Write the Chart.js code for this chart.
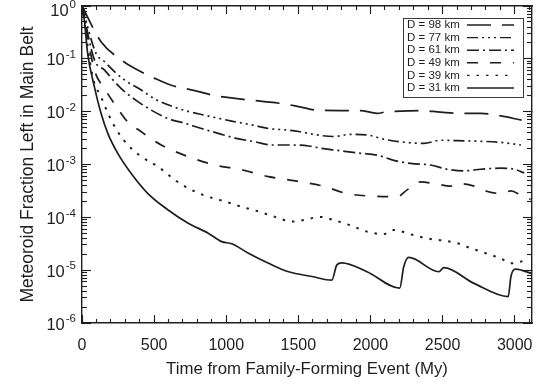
<!DOCTYPE html>
<html>
<head>
<meta charset="utf-8">
<script src="https://cdn.jsdelivr.net/npm/chart.js@4.4.1/dist/chart.umd.min.js"></script>
<style>
  html, body { margin: 0; padding: 0; background: #fff; }
  #wrap { width: 538px; height: 387px; }
</style>
</head>
<body>
<div id="wrap"><canvas id="chart" width="538" height="387"></canvas></div>
<script>
// Meteoroid fraction left in the main belt vs time since the family-forming event.
// Values (time in My, fraction on a log axis).

const seriesLabels = ["D = 98 km", "D = 77 km", "D = 61 km", "D = 49 km", "D = 39 km", "D = 31 km"];

const t98 = [0, 132, 272, 364, 504, 620, 782, 898, 1061, 1200, 1339, 1478, 1627, 1790, 1929, 2045, 2115, 2207, 2347, 2486, 2625, 2765, 2904, 3048];
const f98 = [1, 0.211, 0.0955, 0.0661, 0.0427, 0.0316, 0.0251, 0.0207, 0.0178, 0.0162, 0.0148, 0.0129, 0.0107, 0.0105, 0.0105, 0.0093, 0.0100, 0.0102, 0.0105, 0.0098, 0.0093, 0.0093, 0.0083, 0.0069];

const t77 = [0, 97, 155, 225, 295, 411, 504, 597, 689, 806, 921, 1038, 1177, 1293, 1432, 1511, 1627, 1743, 1859, 1976, 2091, 2207, 2370, 2486, 2602, 2765, 2904, 3043];
const f77 = [1, 0.127, 0.0891, 0.0575, 0.0398, 0.0257, 0.0174, 0.0135, 0.0110, 0.00912, 0.00776, 0.00661, 0.00562, 0.00479, 0.00447, 0.00417, 0.00363, 0.00339, 0.00372, 0.00363, 0.00302, 0.00269, 0.00251, 0.00288, 0.00282, 0.00275, 0.00263, 0.00234];

const t61 = [0, 86, 155, 225, 295, 388, 480, 597, 713, 829, 945, 1061, 1200, 1316, 1455, 1572, 1650, 1767, 1906, 2045, 2161, 2277, 2416, 2533, 2648, 2765, 2904, 2997, 3066];
const f61 = [1, 0.0955, 0.0617, 0.0372, 0.0240, 0.0155, 0.0107, 0.00741, 0.00603, 0.00479, 0.00389, 0.00316, 0.00269, 0.00234, 0.00234, 0.00224, 0.00204, 0.00186, 0.00166, 0.00151, 0.00120, 0.00105, 0.000977, 0.000813, 0.000759, 0.000813, 0.000851, 0.000813, 0.000692];

const t49 = [0, 86, 155, 248, 306, 411, 550, 736, 921, 1107, 1293, 1478, 1673, 1836, 2022, 2184, 2254, 2347, 2440, 2556, 2602, 2718, 2811, 2904, 2974, 3043, 3110];
const f49 = [1, 0.0617, 0.0275, 0.0115, 0.00692, 0.00417, 0.00234, 0.00141, 0.000977, 0.000794, 0.000589, 0.000490, 0.000389, 0.000282, 0.000251, 0.000245, 0.000331, 0.000468, 0.000437, 0.000389, 0.000437, 0.000389, 0.000309, 0.000282, 0.000316, 0.000263, 0.000219];

const t39 = [0, 74, 132, 190, 248, 318, 411, 527, 643, 759, 875, 991, 1107, 1224, 1339, 1455, 1540, 1650, 1743, 1859, 1976, 2091, 2161, 2277, 2393, 2509, 2602, 2672, 2788, 2904, 2974, 3043, 3089];
const f39 = [1, 0.0457, 0.0191, 0.00813, 0.00417, 0.00234, 0.00141, 0.000912, 0.000513, 0.000331, 0.000245, 0.000200, 0.000158, 0.000129, 0.000102, 0.0000832, 0.0000891, 0.000102, 0.0000891, 0.0000708, 0.0000537, 0.0000479, 0.0000575, 0.0000479, 0.0000398, 0.0000363, 0.0000324, 0.0000275, 0.0000214, 0.0000166, 0.0000135, 0.0000145, 0.0000166];

const t31 = [0, 16, 39, 86, 132, 179, 248, 341, 457, 597, 736, 875, 968, 1038, 1154, 1293, 1432, 1595, 1732, 1767, 1801, 1976, 2203, 2231, 2266, 2474, 2509, 2718, 2955, 2974, 3009, 3113];
const f31 = [1, 0.543, 0.127, 0.0295, 0.00933, 0.00389, 0.00162, 0.000676, 0.000282, 0.000138, 0.0000776, 0.0000501, 0.0000347, 0.0000316, 0.0000209, 0.0000135, 0.00000933, 0.00000759, 0.00000646, 0.0000126, 0.0000138, 0.00000933, 0.00000457, 0.0000117, 0.0000174, 0.00000933, 0.0000112, 0.00000562, 0.00000316, 0.00000759, 0.0000105, 0.00000871];

const xTickValues = [0, 500, 1000, 1500, 2000, 2500, 3000];
const yTickPowers = [0, -1, -2, -3, -4, -5, -6];

// ---- styling ----
const INK = "#1e1e1e";
const FONT = '"Liberation Sans", Arial, Helvetica, sans-serif';
const X_MAX = 3120;
const dashStyles = [[24, 11], [11, 4, 2, 4, 2, 4, 2, 4], [12, 4, 2, 4], [11, 12], [2.5, 7], []];
const series = [[t98, f98], [t77, f77], [t61, f61], [t49, f49], [t39, f39], [t31, f31]];

function hideFit(s) {
  if (s.isHorizontal()) s.height = 0; else s.width = 0;
  s.paddingLeft = s.paddingRight = s.paddingTop = s.paddingBottom = 0;
}
function markGrid(len) {
  return { drawOnChartArea: false, tickLength: len, tickColor: INK, tickWidth: 1.1 };
}
function decadeTicks(s) {
  s.ticks = yTickPowers.map((p) => ({ value: Math.pow(10, p) }));
}
function minorLogTicks(s) {
  const out = [];
  yTickPowers.forEach((p) => {
    if (p >= 0) return;
    for (let d = 2; d <= 9; d++) out.push({ value: d * Math.pow(10, p) });
  });
  s.ticks = out;
}
function majorXTicks(s) {
  s.ticks = xTickValues.map((v) => ({ value: v }));
}

const xMarks = (position, weight, len, step) => ({
  type: "linear", position, weight, min: 0, max: X_MAX,
  ticks: { display: false, stepSize: step, includeBounds: false },
  grid: markGrid(len),
  border: { display: false },
  afterFit: hideFit,
});
const yMarks = (position, weight, len, build) => ({
  type: "logarithmic", position, weight, min: 1e-6, max: 1,
  afterBuildTicks: build,
  ticks: { display: false },
  grid: markGrid(len),
  border: { display: false },
  afterFit: hideFit,
});

// legend panel inside the plot, text left and line sample right
const legendPanel = {
  id: "legendPanel",
  afterDatasetsDraw(chart) {
    const { ctx, chartArea } = chart;
    const w = 120, rowH = 12.6, h = rowH * 6 + 3.4;
    const left = Math.round(chartArea.right - 9 - w), top = Math.round(chartArea.top + 12);
    ctx.save();
    ctx.fillStyle = "#fff";
    ctx.fillRect(left, top, w, h);
    ctx.strokeStyle = "#3a3a3a";
    ctx.lineWidth = 1;
    ctx.strokeRect(left + 0.5, top + 0.5, w, h);
    ctx.font = "11.5px " + FONT;
    ctx.textBaseline = "middle";
    ctx.textAlign = "left";
    chart.data.datasets.forEach((ds, i) => {
      const y = top + 7 + i * rowH;
      ctx.setLineDash([]);
      ctx.fillStyle = INK;
      ctx.fillText(ds.label, left + 4, y);
      ctx.setLineDash(ds.borderDash);
      ctx.strokeStyle = INK;
      ctx.lineWidth = 1.4;
      ctx.beginPath();
      ctx.moveTo(left + 64, y);
      ctx.lineTo(left + 111, y);
      ctx.stroke();
    });
    ctx.restore();
  },
};

// 10^n labels on the log axis, with a raised exponent
const powerLabels = {
  id: "powerLabels",
  afterDraw(chart) {
    const scale = chart.scales.y;
    const { ctx } = chart;
    const right = scale.right - 6;
    ctx.save();
    ctx.fillStyle = INK;
    ctx.textBaseline = "middle";
    ctx.textAlign = "left";
    yTickPowers.forEach((p) => {
      const yPix = scale.getPixelForValue(Math.pow(10, p));
      const exp = String(p);
      ctx.font = "11.5px " + FONT;
      const ew = ctx.measureText(exp).width;
      ctx.font = "16.5px " + FONT;
      const bw = ctx.measureText("10").width;
      const baseY = Math.max(yPix + 2, 11);
      ctx.fillText("10", right - ew - bw - 1, baseY);
      ctx.font = "11.5px " + FONT;
      ctx.fillText(exp, right - ew, baseY - 6);
    });
    ctx.restore();
  },
};

new Chart(document.getElementById("chart"), {
  type: "line",
  data: {
    datasets: series.map(([t, f], i) => ({
      label: seriesLabels[i],
      data: t.map((x, j) => ({ x, y: f[j] })),
      borderColor: INK,
      borderWidth: i === 4 ? 2 : 1.7,
      borderDash: dashStyles[i],
      pointRadius: 0,
      fill: false,
      cubicInterpolationMode: "monotone",
    })),
  },
  options: {
    responsive: false,
    animation: false,
    layout: { padding: { top: 6, right: 6, left: 0, bottom: 0 } },
    plugins: { legend: { display: false }, tooltip: { enabled: false } },
    scales: {
      x: {
        type: "linear", position: "bottom", weight: 1, min: 0, max: X_MAX,
        afterBuildTicks: majorXTicks,
        ticks: {
          color: INK, font: { family: FONT, size: 16 }, padding: 20.5,
          maxRotation: 0, autoSkip: false, callback: (v) => String(v),
        },
        grid: markGrid(-8),
        border: { display: true, color: INK, width: 1.4 },
        title: {
          display: true, text: "Time from Family-Forming Event (My)", color: INK,
          font: { family: FONT, size: 16.8 }, padding: { top: 0, bottom: 7.4 },
        },
        afterFit: (s) => {
          s.height = 64;
          s.paddingLeft = s.paddingRight = 0;
        },
      },
      xMinor: xMarks("bottom", 0, -4, 100),
      xTop: Object.assign(xMarks("top", 1, -8, 500), {
        afterBuildTicks: majorXTicks,
        border: { display: true, color: INK, width: 1.4 },
      }),
      xTopMinor: xMarks("top", 0, -4, 100),
      y: {
        type: "logarithmic", position: "left", weight: 1, min: 1e-6, max: 1,
        afterBuildTicks: decadeTicks,
        ticks: { display: false },
        grid: markGrid(-9),
        border: { display: true, color: INK, width: 1.4 },
        title: {
          display: true, text: "Meteoroid Fraction Left in Main Belt", color: INK,
          font: { family: FONT, size: 17.5 }, padding: { top: 17.5, bottom: 0 },
        },
        afterFit: (s) => {
          s.width = 82;
          s.paddingTop = s.paddingBottom = 0;
        },
      },
      yMinor: yMarks("left", 0, -5, minorLogTicks),
      yRight: Object.assign(yMarks("right", 1, -9, decadeTicks), {
        border: { display: true, color: INK, width: 1.4 },
      }),
      yRightMinor: yMarks("right", 0, -5, minorLogTicks),
    },
  },
  plugins: [legendPanel, powerLabels],
});
</script>
</body>
</html>
